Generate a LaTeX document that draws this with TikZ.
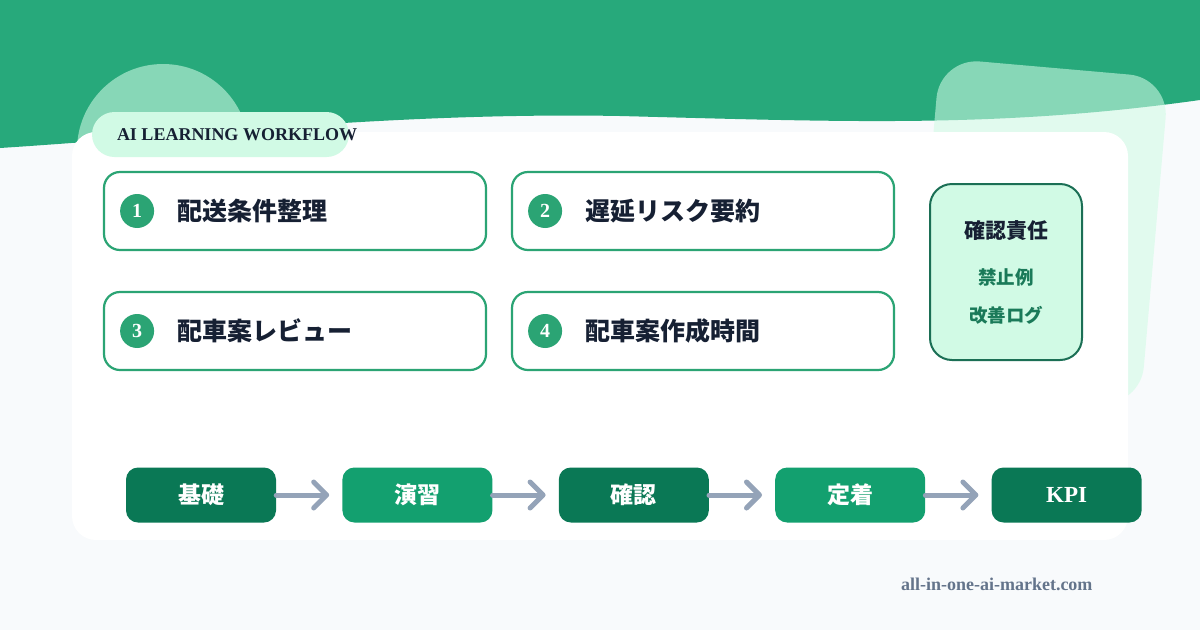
\documentclass[tikz,border=0pt]{standalone}
\usepackage{fontspec}
\setmainfont{Liberation Serif}
\newfontfamily\cjk{Noto Sans CJK JP}
\usetikzlibrary{positioning,arrows.meta}
\definecolor{band}{HTML}{27A97B}
\definecolor{pale}{HTML}{D1FAE5}
\definecolor{bg}{HTML}{F8FAFC}
\definecolor{ink}{HTML}{162033}
\definecolor{rim}{HTML}{2BA474}
\definecolor{deep}{HTML}{0A7855}
\definecolor{mid}{HTML}{13A06F}
\definecolor{darkrim}{HTML}{1B6F55}
\definecolor{leaf}{HTML}{1A7A59}
\definecolor{slate}{HTML}{94A3B8}
\definecolor{foot}{HTML}{64748B}

\tikzset{
  stepbox/.style={draw=rim, line width=2.2pt, rounded corners=16pt, fill=white,
    minimum width=382pt, minimum height=78pt},
  num/.style={circle, fill=rim, text=white, inner sep=0pt, minimum size=34pt,
    font=\bfseries\fontsize{20}{20}\selectfont},
  steptext/.style={text=ink, inner sep=0pt, font=\cjk\bfseries\fontsize{25}{25}\selectfont},
  flowbox/.style={rounded corners=12pt, minimum width=150pt, minimum height=55pt,
    text=white, font=\cjk\bfseries\fontsize{23}{23}\selectfont},
  flowarrow/.style={draw=slate, line width=5pt, line cap=round, shorten >=13pt,
    -{Straight Barb[length=13pt,width=26pt,round]}}
}

\begin{document}
\begin{tikzpicture}[x=1pt,y=-1pt]
  \useasboundingbox (0,0) rectangle (1200,630);

  % fondo y banda superior
  \fill[bg] (0,0) rectangle (1200,630);
  \fill[band] (0,0) -- (1200,0) -- (1200,100)
    .. controls (1000,128) and (850,122) .. (620,116)
    .. controls (400,112) and (200,135) .. (0,148) -- cycle;

  % formas claras detras de la tarjeta
  \fill[pale, opacity=0.57] (163,150) circle (86pt);
  \begin{scope}[shift={(940,58)}, rotate=-5]
    \fill[pale, opacity=0.57, rounded corners=40pt] (0,0) rectangle (230,330);
  \end{scope}

  % tarjeta blanca
  \fill[white, rounded corners=24pt] (72,132) rectangle (1128,540);

  % etiqueta
  \node[fill=pale, rounded corners=22.5pt, minimum width=257pt, minimum height=45pt] (badge) at (220.5,134.5) {};
  \node[anchor=west, text=ink, inner sep=0pt, font=\bfseries\fontsize{18}{18}\selectfont]
    (tag) at ([xshift=25pt]badge.west) {AI LEARNING WORKFLOW};

  % pasos
  \node[stepbox] (s1) at (295,211) {};
  \node[stepbox] (s2) at (703,211) {};
  \node[stepbox] (s3) at (295,331) {};
  \node[stepbox] (s4) at (703,331) {};

  \node[num, right=17pt of s1.west] (n1) {1};
  \node[num, right=17pt of s2.west] (n2) {2};
  \node[num, right=17pt of s3.west] (n3) {3};
  \node[num, right=17pt of s4.west] (n4) {4};

  \node[steptext, right=23pt of n1] (t1) {配送条件整理};
  \node[steptext, right=23pt of n2] (t2) {遅延リスク要約};
  \node[steptext, right=23pt of n3] (t3) {配車案レビュー};
  \node[steptext, right=23pt of n4] (t4) {配車案作成時間};

  % caja lateral
  \node[draw=darkrim, fill=pale, line width=2pt, rounded corners=22pt,
    minimum width=152pt, minimum height=176pt] (resp) at (1006,272) {};
  \node[text=ink, font=\cjk\bfseries\fontsize{21}{21}\selectfont] (r1) at (1006,231) {確認責任};
  \node[text=leaf, font=\cjk\bfseries\fontsize{18.5}{18.5}\selectfont] (r2) at (1006,277) {禁止例};
  \node[text=leaf, font=\cjk\bfseries\fontsize{18.5}{18.5}\selectfont] (r3) at (1006,315) {改善ログ};

  % flujo inferior
  \node[flowbox, fill=deep] (f1) at (201,495) {基礎};
  \node[flowbox, fill=mid, right=66pt of f1] (f2) {演習};
  \node[flowbox, fill=deep, right=66pt of f2] (f3) {確認};
  \node[flowbox, fill=mid, right=66pt of f3] (f4) {定着};
  \node[flowbox, fill=deep, right=66pt of f4, font=\bfseries\fontsize{23}{23}\selectfont] (f5) {KPI};

  \foreach \a/\b in {f1/f2,f2/f3,f3/f4,f4/f5}
    \draw[flowarrow] (\a) -- (\b);

  % pie
  \node[anchor=east, text=foot, font=\bfseries\fontsize{18}{18}\selectfont] (site) at (1096,584) {all-in-one-ai-market.com};
\end{tikzpicture}
\end{document}
